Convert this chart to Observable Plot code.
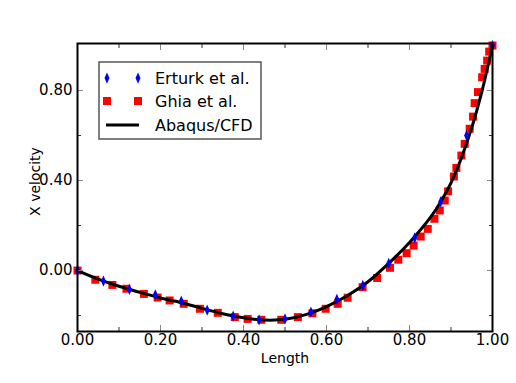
<!DOCTYPE html>
<html><head><meta charset="utf-8">
<script src="https://cdn.jsdelivr.net/npm/d3@7"></script>
<script src="https://cdn.jsdelivr.net/npm/@observablehq/plot@0.6"></script>
<style>body{margin:0;background:#fff;} #chart{width:516px;height:383px;}</style>
</head><body><div id="chart"></div>
<script>
// Erturk et al. (blue thin diamonds)
const erturkX = [0, 0.0625, 0.125, 0.1875, 0.25, 0.3125, 0.375, 0.4375, 0.5, 0.5625, 0.625, 0.6875, 0.75, 0.8125, 0.875, 0.9375, 1.0];
const erturkU = [0, -0.047, -0.084, -0.108, -0.136, -0.176, -0.203, -0.219, -0.215, -0.185, -0.128, -0.066, 0.032, 0.145, 0.305, 0.600, 1.0];
// Ghia et al. (red squares)
const ghiaX = [0.000, 0.043, 0.084, 0.118, 0.160, 0.193, 0.222, 0.256, 0.295, 0.338, 0.379, 0.410, 0.443, 0.491, 0.531, 0.566, 0.598, 0.627, 0.651, 0.687, 0.722, 0.753, 0.773, 0.793, 0.810, 0.827, 0.844, 0.860, 0.873, 0.885, 0.893, 0.907, 0.913, 0.925, 0.933, 0.945, 0.953, 0.957, 0.965, 0.975, 0.981, 0.987, 0.992, 1.000];
const ghiaU = [0.000, -0.041, -0.064, -0.081, -0.104, -0.120, -0.133, -0.148, -0.170, -0.188, -0.207, -0.215, -0.219, -0.219, -0.207, -0.190, -0.170, -0.148, -0.121, -0.074, -0.033, 0.012, 0.048, 0.077, 0.111, 0.151, 0.185, 0.230, 0.267, 0.311, 0.352, 0.418, 0.456, 0.511, 0.563, 0.630, 0.684, 0.744, 0.793, 0.859, 0.896, 0.933, 0.973, 1.000];
// Abaqus/CFD (black line)
const cfdX = [0, 0.05, 0.1, 0.15, 0.2, 0.25, 0.3, 0.35, 0.4, 0.45, 0.5, 0.55, 0.6, 0.65, 0.7, 0.75, 0.8, 0.85, 0.875, 0.9, 0.925, 0.95, 0.975, 1.0];
const cfdU = [0, -0.038, -0.070, -0.097, -0.122, -0.143, -0.168, -0.192, -0.210, -0.220, -0.217, -0.196, -0.160, -0.112, -0.050, 0.032, 0.125, 0.235, 0.305, 0.390, 0.500, 0.635, 0.800, 1.0];

const xMajor = [0, 0.2, 0.4, 0.6, 0.8, 1.0];
const xMinor = [0.1, 0.3, 0.5, 0.7, 0.9];
const yMajor = [0, 0.4, 0.8];
const yMinor = [-0.2, 0.2, 0.6];
const legendLabels = ["Erturk et al.", "Ghia et al.", "Abaqus/CFD"];
const xLabel = "Length";
const yLabel = "X velocity";

const erturk = erturkX.map((x, i) => ({x, u: erturkU[i]}));
const ghia = ghiaX.map((x, i) => ({x, u: ghiaU[i]}));
const cfd = cfdX.map((x, i) => ({x, u: cfdU[i]}));

const thinDiamond = {
  draw(ctx, size) {
    const r = Math.sqrt(size / Math.PI);
    ctx.moveTo(0, -r * 1.25);
    ctx.lineTo(r * 0.55, 0);
    ctx.lineTo(0, r * 1.25);
    ctx.lineTo(-r * 0.55, 0);
    ctx.closePath();
  }
};

const fmt = d3.format(".2f");
const plot = Plot.plot({
  width: 516, height: 383,
  marginLeft: 77, marginRight: 24, marginTop: 43, marginBottom: 52,
  style: {fontFamily: "DejaVu Sans", fontSize: "15px", background: "white", color: "black"},
  x: {domain: [0, 1]},
  y: {domain: [-0.271, 1.009]},
  marks: [
    Plot.dot(ghia, {x: "x", y: "u", symbol: "square", r: 4.5, fill: "#ff0000", stroke: "none"}),
    Plot.line(cfd, {x: "x", y: "u", stroke: "black", strokeWidth: 3, curve: "catmull-rom"}),
    Plot.dot(erturk, {x: "x", y: "u", symbol: thinDiamond, r: 4.5, fill: "#0000ff", stroke: "none"}),
    Plot.axisX(xMajor, {anchor: "bottom", tickSize: 0, tickPadding: 3, tickFormat: fmt, label: null}),
    Plot.axisY(yMajor, {anchor: "left", tickSize: 0, tickPadding: 5, tickFormat: fmt, label: null}),
    Plot.axisX(xMajor, {anchor: "bottom", tickSize: -6, text: null, label: null, stroke: "#888"}),
    Plot.axisX(xMinor, {anchor: "bottom", tickSize: -4, text: null, label: null, stroke: "#333"}),
    Plot.axisX(xMajor, {anchor: "top", tickSize: -6, text: null, label: null, stroke: "#888"}),
    Plot.axisX(xMinor, {anchor: "top", tickSize: -4, text: null, label: null, stroke: "#333"}),
    Plot.axisY(yMajor, {anchor: "left", tickSize: -6, text: null, label: null, stroke: "#888"}),
    Plot.axisY(yMinor, {anchor: "left", tickSize: -4, text: null, label: null, stroke: "#333"}),
    Plot.axisY(yMajor, {anchor: "right", tickSize: -6, text: null, label: null, stroke: "#888"}),
    Plot.axisY(yMinor, {anchor: "right", tickSize: -4, text: null, label: null, stroke: "#333"}),
    Plot.frame({stroke: "black", strokeWidth: 2}),
    Plot.text([xLabel], {frameAnchor: "bottom", dy: 27, lineAnchor: "middle", textAnchor: "middle", fontSize: 14, fill: "black"}),
    Plot.text([yLabel], {frameAnchor: "left", dx: -42, dy: -6, rotate: -90, lineAnchor: "middle", textAnchor: "middle", fontSize: 14, fill: "black"})
  ]
});
document.getElementById("chart").appendChild(plot);

// Legend (inside the axes, upper left)
const svg = d3.select(plot);
const lg = svg.append("g").attr("font-family", "DejaVu Sans").attr("font-size", 16).attr("text-anchor", "start");
lg.append("rect").attr("x", 99).attr("y", 62).attr("width", 162).attr("height", 77)
  .attr("fill", "white").attr("stroke", "#555").attr("stroke-width", 1.5);
const rowsY = [78, 101, 125];
const sq = d3.symbol(d3.symbolSquare, 4.5 * 4.5 * Math.PI)();
const dm = d3.symbol(thinDiamond, 4.5 * 4.5 * Math.PI)();
[107, 138].forEach(mx => {
  lg.append("path").attr("d", dm).attr("fill", "#0000ff").attr("transform", `translate(${mx},${rowsY[0]})`);
  lg.append("path").attr("d", sq).attr("fill", "#ff0000").attr("transform", `translate(${mx},${rowsY[1]})`);
});
lg.append("line").attr("x1", 106).attr("x2", 139).attr("y1", rowsY[2]).attr("y2", rowsY[2])
  .attr("stroke", "black").attr("stroke-width", 3);
legendLabels.forEach((t, i) => {
  lg.append("text").attr("x", 155).attr("y", rowsY[i]).attr("dy", "0.35em").attr("text-anchor", "start").attr("fill", "black").text(t);
});
</script>
</body></html>
